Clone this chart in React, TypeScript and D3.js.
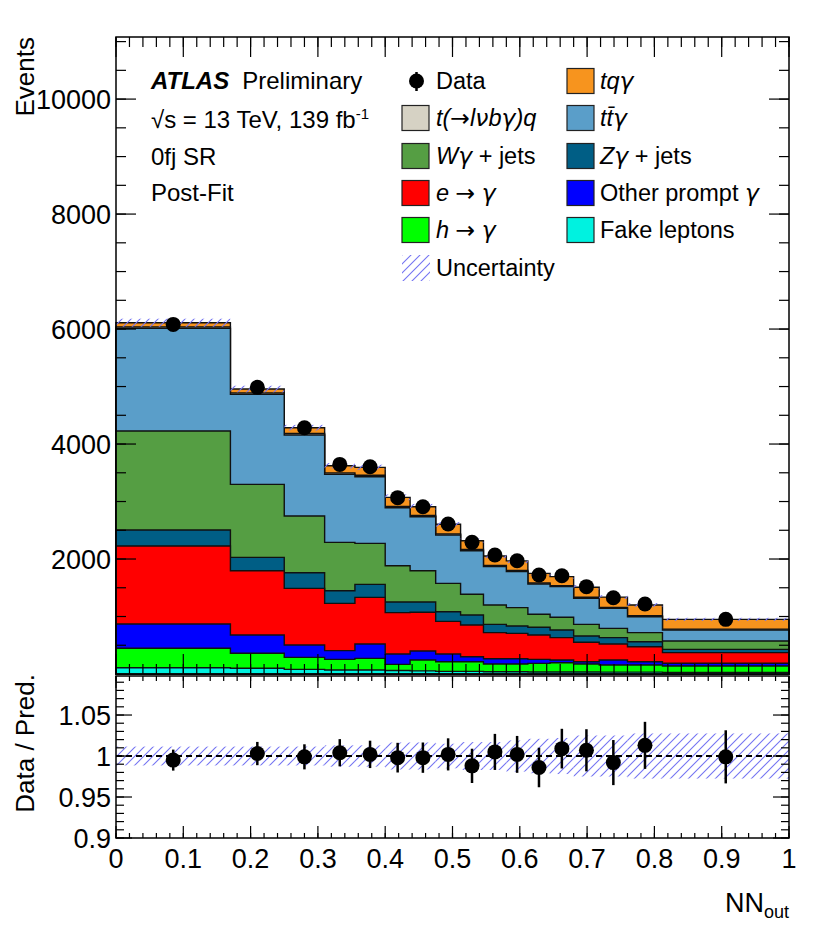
import React from 'react';
import * as d3 from 'd3';

// bin edges of NN_out (variable width)
const edges = [0, 0.17, 0.25, 0.31, 0.355, 0.4, 0.437, 0.475, 0.512, 0.546, 0.58, 0.612, 0.645, 0.68, 0.718, 0.76, 0.812, 1.0];

// post-fit yields per bin, bottom of the stack first
const fakeLeptons = [110, 100, 81, 70, 70, 60, 55, 45, 45, 40, 40, 35, 35, 35, 33, 33, 29];
const hGamma = [337, 260, 209, 185, 202, 108, 188, 169, 169, 134, 134, 150, 160, 140, 124, 124, 110];
const otherPrompt = [423, 318, 214, 151, 250, 180, 157, 134, 87, 92, 92, 70, 48, 39, 86, 57, 47];
const eGamma = [1356, 1119, 986, 823, 811, 719, 673, 568, 551, 453, 441, 423, 389, 337, 279, 261, 185];
const zGamma = [278, 232, 272, 220, 226, 185, 179, 168, 174, 145, 128, 134, 133, 110, 110, 87, 58];
const wGamma = [1722, 1270, 986, 841, 713, 632, 545, 493, 360, 336, 319, 226, 221, 203, 162, 157, 145];
const ttGamma = [1786, 1565, 1409, 1182, 1160, 1009, 939, 840, 759, 667, 626, 527, 533, 452, 348, 278, 191];
const tlvbq = [25, 25, 25, 25, 25, 22, 22, 20, 20, 20, 20, 18, 18, 18, 16, 16, 16];
const tqGamma = [73, 68, 102, 126, 137, 158, 152, 167, 154, 165, 167, 168, 156, 174, 180, 188, 170];

const dataCounts = [6081, 4986, 4284, 3646, 3606, 3067, 2910, 2609, 2290, 2070, 1971, 1722, 1710, 1519, 1327, 1217, 951];
const ratioValues = [0.995, 1.003, 0.999, 1.004, 1.002, 0.998, 0.998, 1.002, 0.988, 1.005, 1.002, 0.986, 1.009, 1.007, 0.992, 1.013, 0.999];
const ratioErrors = [0.0128, 0.0142, 0.0153, 0.0166, 0.0167, 0.0181, 0.0185, 0.0196, 0.0209, 0.022, 0.0225, 0.0241, 0.0242, 0.0257, 0.0275, 0.0287, 0.0324];
// relative uncertainty of the prediction
const relUncert = [0.0115, 0.0115, 0.0115, 0.013, 0.013, 0.0165, 0.0165, 0.015, 0.017, 0.017, 0.019, 0.021, 0.022, 0.025, 0.025, 0.0275, 0.0275];

const layers = [
  { key: 'fake', values: fakeLeptons, color: '#00f2e0' },
  { key: 'h', values: hGamma, color: '#00ff00' },
  { key: 'other', values: otherPrompt, color: '#0000ff' },
  { key: 'e', values: eGamma, color: '#ff0000' },
  { key: 'z', values: zGamma, color: '#005e85' },
  { key: 'w', values: wGamma, color: '#559e43' },
  { key: 'tt', values: ttGamma, color: '#5a9ec9' },
  { key: 'tlvbq', values: tlvbq, color: '#d6d2c4' },
  { key: 'tq', values: tqGamma, color: '#f7941e' },
];

const FONT = 'Liberation Sans, Arial, Helvetica, sans-serif';
const SYM = 'DejaVu Sans, sans-serif';
const HATCH = '#7474f2';

const left = 116, right = 789;
const top = 37, mainBottom = 674;
const ratioTop = 676, ratioBottom = 838;

const Gamma = () => <tspan fontFamily={SYM} fontStyle="italic">γ</tspan>;
const Arrow = () => <tspan fontFamily={SYM}>→</tspan>;

const App = () => {
  const x = d3.scaleLinear().domain([0, 1]).range([left, right]);
  const y = d3.scaleLinear().domain([0, 11080]).range([mainBottom, top]);
  const yr = d3.scaleLinear().domain([0.9, 1.0976]).range([ratioBottom, ratioTop]);

  const nBins = dataCounts.length;
  const centers = d3.range(nBins).map(i => (edges[i] + edges[i + 1]) / 2);

  // cumulative stack
  const cum: number[][] = [];
  let running = new Array(nBins).fill(0);
  layers.forEach(l => {
    running = running.map((v, i) => v + l.values[i]);
    cum.push(running.slice());
  });
  const total = cum[cum.length - 1];

  const area = d3.area<number>()
    .x((d, i) => x(edges[i]))
    .y0(y(0))
    .y1(d => y(d))
    .curve(d3.curveStepAfter);

  // repeat last value at the final edge for the step curve
  const stepData = (vals: number[]) => [...vals, vals[vals.length - 1]];

  const xMajor = d3.range(0, 1.0001, 0.1);
  const xMinor = d3.range(0, 1.0001, 0.02);
  const yMajor = d3.range(2000, 11000, 2000);
  const yMinor = d3.range(500, 11080, 500);
  const rMajor = [0.9, 0.95, 1.0, 1.05];
  const rMinor = d3.range(0, 20).map(i => 0.9 + i * 0.01);

  const legendLeft = [
    { label: 'tl', color: layers[7].color },
    { label: 'w', color: layers[5].color },
    { label: 'e', color: layers[3].color },
    { label: 'h', color: layers[1].color },
  ];
  const legendRight = [
    { label: 'tq', color: layers[8].color },
    { label: 'tt', color: layers[6].color },
    { label: 'z', color: layers[4].color },
    { label: 'other', color: layers[2].color },
    { label: 'fake', color: layers[0].color },
  ];

  const labelText = (key: string) => {
    switch (key) {
      case 'tl':
        return <tspan fontStyle="italic">t(<Arrow />l<tspan fontFamily={SYM}>ν</tspan>b<Gamma />)q</tspan>;
      case 'w':
        return <><tspan fontStyle="italic">W</tspan><Gamma /><tspan> + jets</tspan></>;
      case 'e':
        return <><tspan fontStyle="italic">e </tspan><Arrow /><tspan> </tspan><Gamma /></>;
      case 'h':
        return <><tspan fontStyle="italic">h </tspan><Arrow /><tspan> </tspan><Gamma /></>;
      case 'tq':
        return <><tspan fontStyle="italic">tq</tspan><Gamma /></>;
      case 'tt':
        return <><tspan fontStyle="italic">tt̄</tspan><Gamma /></>;
      case 'z':
        return <><tspan fontStyle="italic">Z</tspan><Gamma /><tspan> + jets</tspan></>;
      case 'other':
        return <><tspan>Other prompt </tspan><Gamma /></>;
      case 'fake':
        return <tspan>Fake leptons</tspan>;
      default:
        return null;
    }
  };

  const rowY = [81, 118, 156, 193, 230, 268];

  return (
    <svg width={830} height={936} style={{ position: 'absolute', left: 0, top: 0, background: '#fff' }}
      fontFamily={FONT}>
      <defs>
        <pattern id="hatch" patternUnits="userSpaceOnUse" width={9} height={9}>
          <path d="M0,9 L9,0 M-2,2 L2,-2 M7,11 L11,7" stroke={HATCH} strokeWidth={1.1} />
        </pattern>
      </defs>
      <rect x={0} y={0} width={830} height={936} fill="#fff" />

      {/* stacked histograms, largest cumulative first */}
      {cum.slice().reverse().map((vals, k) => (
        <path key={k} d={area(stepData(vals)) || ''}
          fill={layers[layers.length - 1 - k].color} stroke="#111" strokeWidth={1.4} />
      ))}

      {/* prediction uncertainty */}
      {total.map((t, i) => (
        <rect key={'u' + i} x={x(edges[i])} width={x(edges[i + 1]) - x(edges[i])}
          y={y(t * (1 + relUncert[i]))} height={y(t * (1 - relUncert[i])) - y(t * (1 + relUncert[i]))}
          fill="url(#hatch)" />
      ))}

      {/* data */}
      {dataCounts.map((d, i) => {
        const err = ratioErrors[i] * total[i];
        return (
          <g key={'d' + i}>
            <line x1={x(centers[i])} x2={x(centers[i])} y1={y(d - err)} y2={y(d + err)} stroke="#000" strokeWidth={2.5} />
            <circle cx={x(centers[i])} cy={y(d)} r={7.5} fill="#000" />
          </g>
        );
      })}

      {/* upper frame and ticks */}
      <rect x={left} y={top} width={right - left} height={mainBottom - top} fill="none" stroke="#000" strokeWidth={1.5} />
      {xMinor.map((v, i) => (
        <g key={'xm' + i}>
          <line x1={x(v)} x2={x(v)} y1={mainBottom} y2={mainBottom - 10} stroke="#000" strokeWidth={1.2} />
          <line x1={x(v)} x2={x(v)} y1={top} y2={top + 10} stroke="#000" strokeWidth={1.2} />
        </g>
      ))}
      {xMajor.map((v, i) => (
        <g key={'xM' + i}>
          <line x1={x(v)} x2={x(v)} y1={mainBottom} y2={mainBottom - 20} stroke="#000" strokeWidth={1.2} />
          <line x1={x(v)} x2={x(v)} y1={top} y2={top + 20} stroke="#000" strokeWidth={1.2} />
        </g>
      ))}
      {yMinor.map((v, i) => (
        <g key={'ym' + i}>
          <line x1={left} x2={left + 10} y1={y(v)} y2={y(v)} stroke="#000" strokeWidth={1.2} />
          <line x1={right} x2={right - 10} y1={y(v)} y2={y(v)} stroke="#000" strokeWidth={1.2} />
        </g>
      ))}
      {yMajor.map((v, i) => (
        <g key={'yM' + i}>
          <line x1={left} x2={left + 20} y1={y(v)} y2={y(v)} stroke="#000" strokeWidth={1.2} />
          <line x1={right} x2={right - 20} y1={y(v)} y2={y(v)} stroke="#000" strokeWidth={1.2} />
          <text x={111} y={y(v) + 9.5} fontSize={27} textAnchor="end">{v}</text>
        </g>
      ))}
      <text transform={`translate(34,${top}) rotate(-90)`} fontSize={26} textAnchor="end">Events</text>

      {/* ratio panel */}
      {d3.range(nBins).map(i => (
        <rect key={'ru' + i} x={x(edges[i])} width={x(edges[i + 1]) - x(edges[i])}
          y={yr(1 + relUncert[i])} height={yr(1 - relUncert[i]) - yr(1 + relUncert[i])}
          fill="url(#hatch)" />
      ))}
      <line x1={left} x2={right} y1={yr(1)} y2={yr(1)} stroke="#000" strokeWidth={2} strokeDasharray="6,4" />
      {ratioValues.map((r, i) => (
        <g key={'r' + i}>
          <line x1={x(centers[i])} x2={x(centers[i])} y1={yr(r - ratioErrors[i])} y2={yr(r + ratioErrors[i])} stroke="#000" strokeWidth={2.5} />
          <circle cx={x(centers[i])} cy={yr(r)} r={7.5} fill="#000" />
        </g>
      ))}
      <rect x={left} y={ratioTop} width={right - left} height={ratioBottom - ratioTop} fill="none" stroke="#000" strokeWidth={1.5} />
      {xMinor.map((v, i) => (
        <g key={'rxm' + i}>
          <line x1={x(v)} x2={x(v)} y1={ratioBottom} y2={ratioBottom - 5} stroke="#000" strokeWidth={1.2} />
          <line x1={x(v)} x2={x(v)} y1={ratioTop} y2={ratioTop + 5} stroke="#000" strokeWidth={1.2} />
        </g>
      ))}
      {xMajor.map((v, i) => (
        <g key={'rxM' + i}>
          <line x1={x(v)} x2={x(v)} y1={ratioBottom} y2={ratioBottom - 12} stroke="#000" strokeWidth={1.2} />
          <line x1={x(v)} x2={x(v)} y1={ratioTop} y2={ratioTop + 12} stroke="#000" strokeWidth={1.2} />
          <text x={x(v)} y={868} fontSize={27} textAnchor="middle">{d3.format('~g')(+v.toFixed(1))}</text>
        </g>
      ))}
      {rMinor.map((v, i) => (
        <g key={'rym' + i}>
          <line x1={left} x2={left + 8} y1={yr(v)} y2={yr(v)} stroke="#000" strokeWidth={1.2} />
          <line x1={right} x2={right - 8} y1={yr(v)} y2={yr(v)} stroke="#000" strokeWidth={1.2} />
        </g>
      ))}
      {rMajor.map((v, i) => (
        <g key={'ryM' + i}>
          <line x1={left} x2={left + 16} y1={yr(v)} y2={yr(v)} stroke="#000" strokeWidth={1.2} />
          <line x1={right} x2={right - 16} y1={yr(v)} y2={yr(v)} stroke="#000" strokeWidth={1.2} />
          <text x={111} y={yr(v) + 9.5} fontSize={27} textAnchor="end">{d3.format('~g')(v)}</text>
        </g>
      ))}
      <text transform={`translate(34,674) rotate(-90)`} fontSize={26} textAnchor="end">Data / Pred.</text>
      <text x={right} y={912} fontSize={27} textAnchor="end">
        NN<tspan fontSize={18} dy={6}>out</tspan>
      </text>

      {/* ATLAS label */}
      <g fontSize={24}>
        <text x={151} y={89}>
          <tspan fontWeight="bold" fontStyle="italic">ATLAS</tspan>
          <tspan dx={13}>Preliminary</tspan>
        </text>
        <text x={151} y={128}>
          √s = 13 TeV, 139 fb<tspan fontSize={15} dy={-9}>-1</tspan>
        </text>
        <text x={151} y={165}>0fj SR</text>
        <text x={151} y={201}>Post-Fit</text>
      </g>

      {/* legend */}
      <g fontSize={23.5}>
        <line x1={416.5} x2={416.5} y1={rowY[0] - 9} y2={rowY[0] + 10} stroke="#000" strokeWidth={2.5} />
        <circle cx={416.5} cy={rowY[0]} r={7.5} fill="#000" />
        <text x={436} y={rowY[0] + 8}>Data</text>
        {legendLeft.map((l, i) => (
          <g key={'ll' + i}>
            <rect x={402} y={rowY[i + 1] - 12.5} width={27} height={25} fill={l.color} stroke="#222" strokeWidth={1.2} />
            <text x={436} y={rowY[i + 1] + 8}>{labelText(l.label)}</text>
          </g>
        ))}
        <rect x={402} y={rowY[5] - 13} width={28} height={26} fill="url(#hatch)" />
        <text x={436} y={rowY[5] + 8}>Uncertainty</text>
        {legendRight.map((l, i) => (
          <g key={'lr' + i}>
            <rect x={567} y={rowY[i] - 12.5} width={27} height={25} fill={l.color} stroke="#222" strokeWidth={1.2} />
            <text x={600} y={rowY[i] + 8}>{labelText(l.label)}</text>
          </g>
        ))}
      </g>
    </svg>
  );
};

export default App;
